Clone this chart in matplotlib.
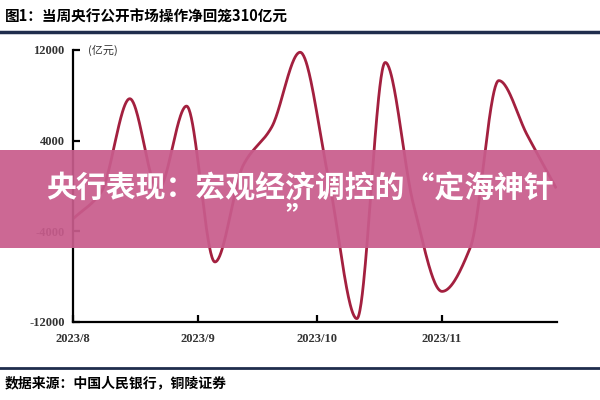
import numpy as np
import matplotlib
matplotlib.use("Agg")
import matplotlib.pyplot as plt
from matplotlib.patches import Rectangle

# weekly net injection (亿元)
weeks = np.arange(18)
net_flow = [-2900, -500, 7700, -300, 7050, -6700, 1850, 5200, 11800,
            700, -11700, 10900, -1700, -9300, -5400, 9300, 4500, -100]
tick_pos = [0, 4.4, 8.6, 13.0]
tick_labels = ["2023/8", "2023/9", "2023/10", "2023/11"]
y_ticks = [-12000, -4000, 4000, 12000]

title = "图1：当周央行公开市场操作净回笼310亿元"
source = "数据来源：中国人民银行，铜陵证券"
banner = "央行表现：宏观经济调控的“定海神针"


def pchip(x, y, n=800):
    # monotone cubic (Fritsch-Carlson), numpy only
    x = np.asarray(x, float)
    y = np.asarray(y, float)
    h = np.diff(x)
    delta = np.diff(y) / h
    d = np.zeros_like(y)
    for i in range(1, len(x) - 1):
        if delta[i - 1] * delta[i] > 0:
            w1 = 2 * h[i] + h[i - 1]
            w2 = h[i] + 2 * h[i - 1]
            d[i] = (w1 + w2) / (w1 / delta[i - 1] + w2 / delta[i])
    d[0] = delta[0]
    d[-1] = delta[-1]
    xs = np.linspace(x[0], x[-1], n)
    idx = np.clip(np.searchsorted(x, xs) - 1, 0, len(x) - 2)
    t = (xs - x[idx]) / h[idx]
    h00 = 2 * t ** 3 - 3 * t ** 2 + 1
    h10 = t ** 3 - 2 * t ** 2 + t
    h01 = -2 * t ** 3 + 3 * t ** 2
    h11 = t ** 3 - t ** 2
    ys = h00 * y[idx] + h10 * h[idx] * d[idx] + h01 * y[idx + 1] + h11 * h[idx] * d[idx + 1]
    return xs, ys


cjk = ["Noto Sans CJK SC", "DejaVu Sans"]

fig = plt.figure(figsize=(6, 4), dpi=100)
fig.patch.set_facecolor("white")
ax = fig.add_axes([73 / 600, 1 - 322 / 400, (557 - 73) / 600, (322 - 50) / 400])

xs, ys = pchip(weeks, net_flow)
ax.plot(xs, ys, color="#a3203f", lw=2)

ax.set_xlim(0, 17.05)
ax.set_ylim(-12000, 12000)
ax.spines["top"].set_visible(False)
ax.spines["right"].set_visible(False)
ax.spines["left"].set_linewidth(1.6)
ax.spines["bottom"].set_linewidth(1.6)
ax.set_yticks(y_ticks)
ax.set_yticklabels([str(v) for v in y_ticks], fontfamily="Liberation Serif",
                   fontsize=9, fontweight="bold", color="#333333")
ax.tick_params(axis="y", direction="in", length=5, width=1.6, pad=6)
ax.set_xticks(tick_pos)
ax.set_xticklabels(tick_labels, fontfamily="Liberation Serif", fontsize=9,
                   fontweight="bold", color="#333333")
ax.tick_params(axis="x", direction="in", length=5, width=1.6, pad=8)
ax.text(0.03, 1.0, "(亿元)", transform=ax.transAxes, fontfamily=cjk,
        fontsize=8, color="#333333", va="center", ha="left")

# header / footer rules and text
fig.add_artist(plt.Line2D([0, 1], [1 - 32 / 400] * 2, color="#1f2d4d", lw=2.5))
fig.add_artist(plt.Line2D([0, 1], [1 - 368 / 400] * 2, color="#1f2d4d", lw=2))
fig.text(5 / 600, 1 - 16 / 400, title, fontfamily=cjk, fontsize=10.5,
         fontweight="bold", va="center", ha="left")
fig.text(5 / 600, 1 - 383 / 400, source, fontfamily=cjk, fontsize=10,
         fontweight="bold", va="center", ha="left")

# pink banner across the middle
fig.add_artist(Rectangle((0, 1 - 248 / 400), 1, 98 / 400, transform=fig.transFigure,
                         facecolor="#c85c8c", alpha=0.93, edgecolor="none", zorder=5))
fig.text(0.5, 1 - 189 / 400, banner, fontfamily=cjk, fontsize=21.5, fontweight="bold",
         color="white", ha="center", va="center", zorder=6)
fig.text(0.5, 1 - 218 / 400, "”", fontfamily=cjk, fontsize=21.5, fontweight="bold",
         color="white", ha="center", va="center", zorder=6)

fig.savefig("out.png", dpi=100)
